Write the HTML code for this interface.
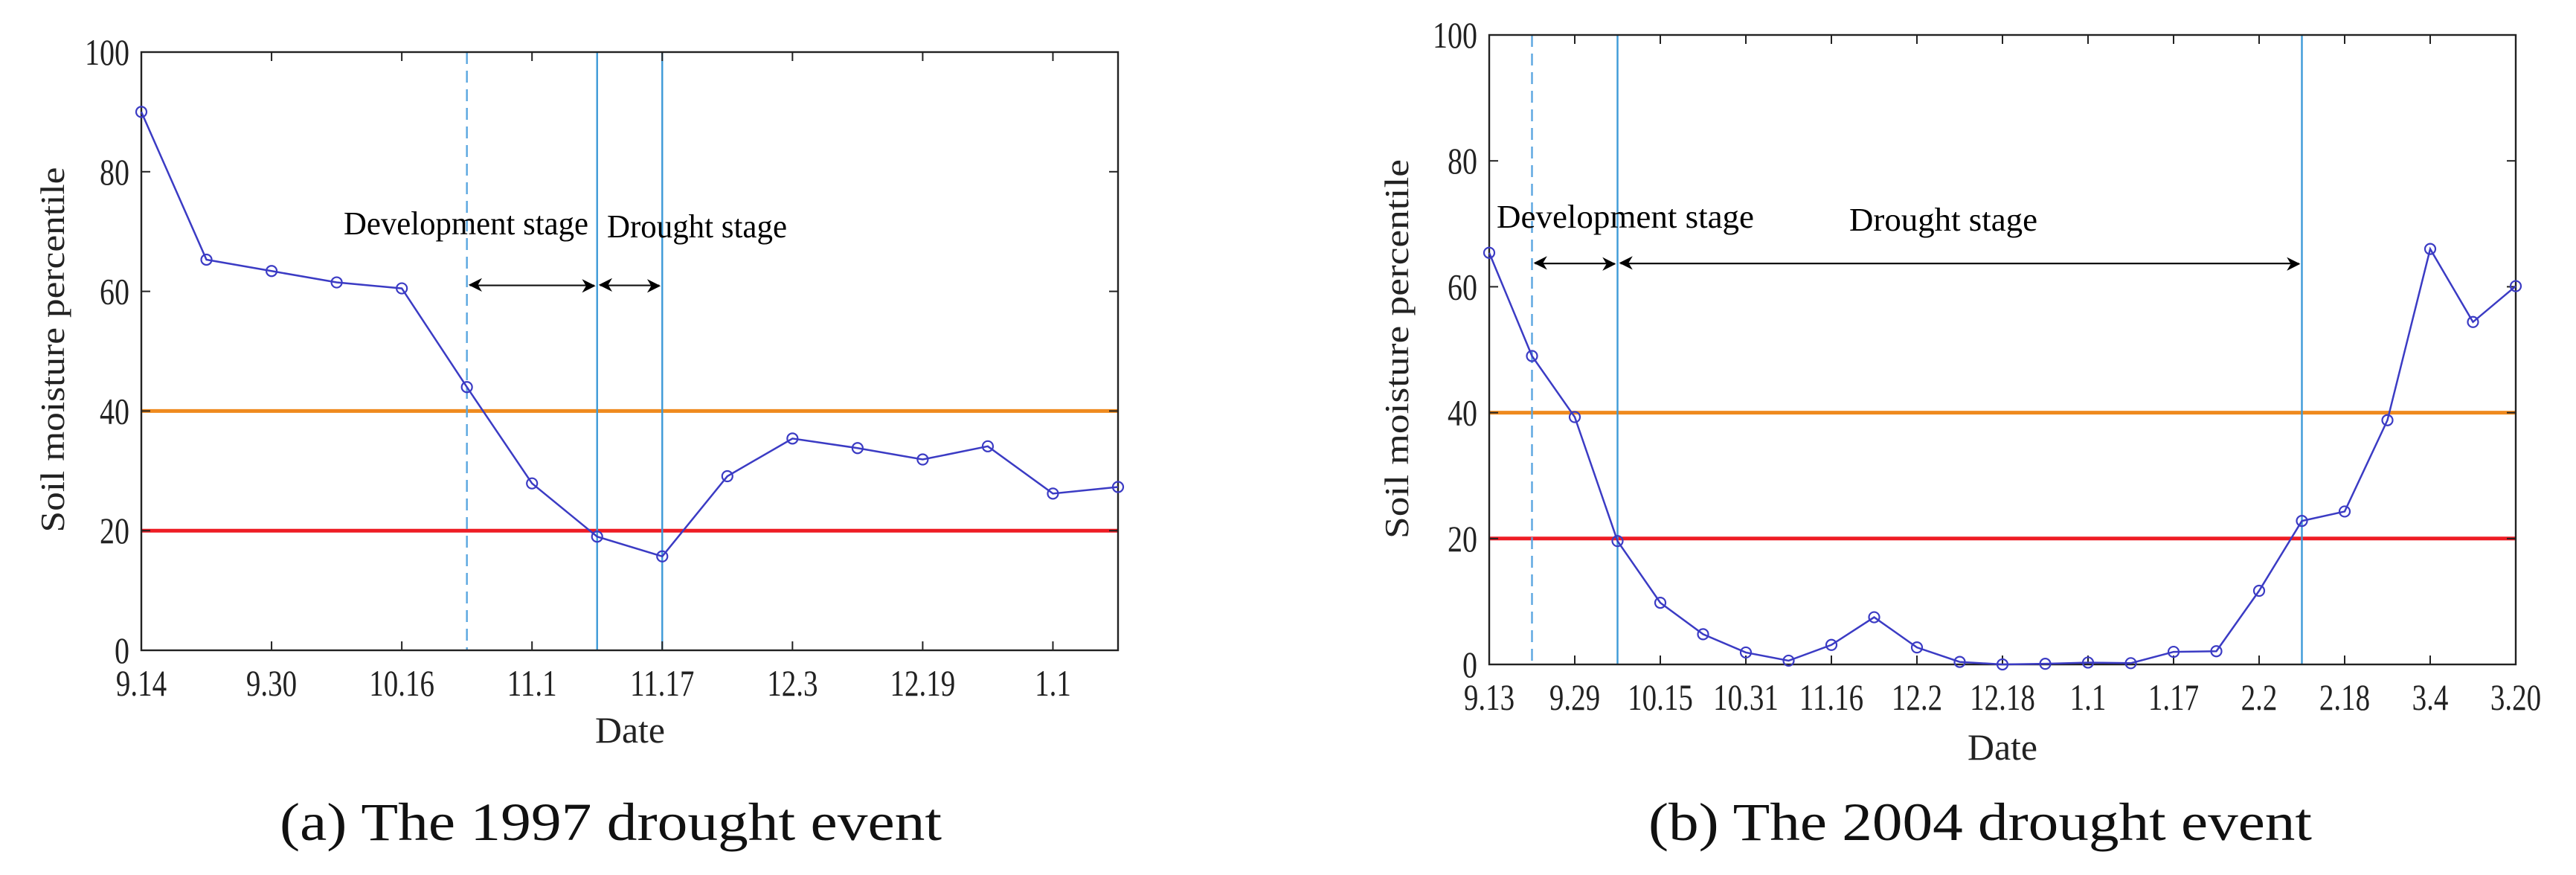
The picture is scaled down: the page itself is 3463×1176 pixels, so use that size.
<!DOCTYPE html>
<html><head><meta charset="utf-8"><style>
html,body{margin:0;padding:0;background:#fff;}
svg{display:block;}
text{font-family:"Liberation Serif",serif;fill:#222;}
</style></head><body>
<svg id="fig" width="3463" height="1176" viewBox="0 0 3463 1176" xmlns="http://www.w3.org/2000/svg">
<defs>
<marker id="ah" viewBox="0 0 10 10" refX="9" refY="5" markerWidth="7" markerHeight="7" orient="auto-start-reverse" markerUnits="userSpaceOnUse" style="overflow:visible">
<path d="M0,0 L10,5 L0,10 L3,5 Z" fill="#000" transform="scale(2.6) translate(-5.5,-2.7)"/>
</marker>
</defs>
</svg>
<script>
// ---- Chart (a) data: 1997 ----
const catsA = ["9.14","","9.30","","10.16","","11.1","","11.17","","12.3","","12.19","","1.1",""];
const valsA = [90.0,65.3,63.4,61.5,60.5,44.0,27.9,19.0,15.7,29.1,35.4,33.8,31.9,34.1,26.2,27.3];
const vlinesA = [5,7,8];
const dashedA = [true,false,false];
const arrowsA = [[5,7],[7,8]];
const arrowYA = [61];
// ---- Chart (b) data: 2004 ----
const catsB = ["9.13","","9.29","","10.15","","10.31","","11.16","","12.2","","12.18","","1.1","","1.17","","2.2","","2.18","","3.4","","3.20"];
const valsB = [65.4,49.0,39.3,19.6,9.8,4.8,1.9,0.6,3.1,7.5,2.7,0.4,0.0,0.1,0.3,0.2,2.0,2.1,11.7,22.8,24.3,38.8,66.0,54.4,60.1];
const vlinesB = [1,3,19];
const dashedB = [true,false,false];
const arrowsB = [[1,3],[3,19]];
const arrowYB = [63.7];
const yTicks = [0,20,40,60,80,100];
const thresholds = [40,20];
const thresholdColors = ["#ef8a1e","#ee1c24"];

const NS="http://www.w3.org/2000/svg";
const svg=document.getElementById('fig');
function mk(tag,attrs,parent){const e=document.createElementNS(NS,tag);for(const k in attrs)e.setAttribute(k,attrs[k]);(parent||svg).appendChild(e);return e;}

function chart(o){
  const g=mk('g',{});
  
  
  const n=o.vals.length;
  const X=i=>o.x0+(o.x1-o.x0)*i/(n-1);
  const Y=v=>o.y1-(o.y1-o.y0)*v/100;
  thresholds.forEach((t,k)=>{
    const l=mk('line',{x1:o.x0,x2:o.x1,y1:Y(t),y2:Y(t),stroke:thresholdColors[k],'stroke-width':5},g);
    
    
  });
  o.vlines.forEach((vi,k)=>{
    const a={x1:X(vi),x2:X(vi),y1:o.y0,y2:o.y1,stroke:o.dashed[k]?'#5aa6e0':'#3d9ad8','stroke-width':2.4};
    if(o.dashed[k])a['stroke-dasharray']='16,9';
    const l=mk('line',a,g);
    
    
  });
  const box=mk('rect',{x:o.x0,y:o.y0,width:o.x1-o.x0,height:o.y1-o.y0,fill:'none',stroke:'#222','stroke-width':2.4},g);
  
  
  yTicks.forEach(t=>{
    mk('line',{x1:o.x0,x2:o.x0+12,y1:Y(t),y2:Y(t),stroke:'#222','stroke-width':2},g);
    mk('line',{x1:o.x1,x2:o.x1-12,y1:Y(t),y2:Y(t),stroke:'#222','stroke-width':2},g);
    const xr=o.x0-16;
    const tx=mk('text',{x:xr,y:Y(t)+17,'font-size':50,'text-anchor':'end',transform:`translate(${xr},0) scale(0.8,1) translate(${-xr},0)`},g);
    tx.textContent=t;
    
    
  });
  o.cats.forEach((c,i)=>{
    if(c==='')return;
    mk('line',{x1:X(i),x2:X(i),y1:o.y1,y2:o.y1-12,stroke:'#222','stroke-width':2},g);
    mk('line',{x1:X(i),x2:X(i),y1:o.y0,y2:o.y0+12,stroke:'#222','stroke-width':2},g);
    const tx=mk('text',{x:X(i),y:o.tickY,'font-size':50,'text-anchor':'middle',transform:`translate(${X(i)},0) scale(0.78,1) translate(${-X(i)},0)`},g);
    tx.textContent=c;
    
    
  });
  const pts=o.vals.map((v,i)=>X(i)+','+Y(v)).join(' ');
  const pl=mk('polyline',{points:pts,fill:'none',stroke:'#3b3bc4','stroke-width':2.5},g);
  
  
  o.vals.forEach((v,i)=>{
    const c=mk('circle',{cx:X(i),cy:Y(v),r:7,fill:'none',stroke:'#3b3bc4','stroke-width':2.2},g);
    
    
  });
  o.arrows.forEach(a=>{
    const l=mk('line',{x1:X(a[0])+4,x2:X(a[1])-4,y1:Y(o.arrowY[0]),y2:Y(o.arrowY[0]),stroke:'#111','stroke-width':2.2,'marker-start':'url(#ah)','marker-end':'url(#ah)'},g);
    
    
  });
  o.notes.forEach(nt=>{
    const tx=mk('text',{x:nt[1],y:nt[3],'font-size':44,textLength:nt[2]-nt[1],lengthAdjust:'spacingAndGlyphs',style:'fill:#000'},g);
    tx.textContent=nt[0];
    
    
  });
  const yl=mk('text',{x:0,y:0,'font-size':46,'text-anchor':'middle',textLength:o.ylabLen,lengthAdjust:'spacingAndGlyphs',transform:`translate(${o.ylabX},${o.ylabY}) rotate(-90)`},g);
  yl.textContent='Soil moisture percentile';
  
  
  const xl=mk('text',{x:o.dateX-47,y:o.dateY,'font-size':50,textLength:94,lengthAdjust:'spacingAndGlyphs'},g);
  xl.textContent='Date';
  
  
  const cp=mk('text',{x:o.capX0,y:1129,'font-size':72,textLength:o.capX1-o.capX0,lengthAdjust:'spacingAndGlyphs',style:'fill:#111'},g);
  cp.textContent=o.caption;
  
  
}

chart({name:'chart-1997',cats:catsA,vals:valsA,vlines:vlinesA,dashed:dashedA,arrows:arrowsA,arrowY:arrowYA,
  x0:190,x1:1503,y0:70,y1:874,tickY:935,
  notes:[['Development stage',462,791,315,'development-stage-label'],['Drought stage',816,1058,319,'drought-stage-label']],
  ylabX:86,ylabY:470,ylabLen:491,dateX:847,dateY:998,capX0:376,capX1:1266,caption:'(a) The 1997 drought event'});
chart({name:'chart-2004',cats:catsB,vals:valsB,vlines:vlinesB,dashed:dashedB,arrows:arrowsB,arrowY:arrowYB,
  x0:2002,x1:3382,y0:47,y1:893,tickY:954,
  notes:[['Development stage',2012,2358,306,'development-stage-label'],['Drought stage',2486,2739,310,'drought-stage-label']],
  ylabX:1893,ylabY:469,ylabLen:510,dateX:2692,dateY:1021,capX0:2216,capX1:3108,caption:'(b) The 2004 drought event'});
</script>
</body></html>
